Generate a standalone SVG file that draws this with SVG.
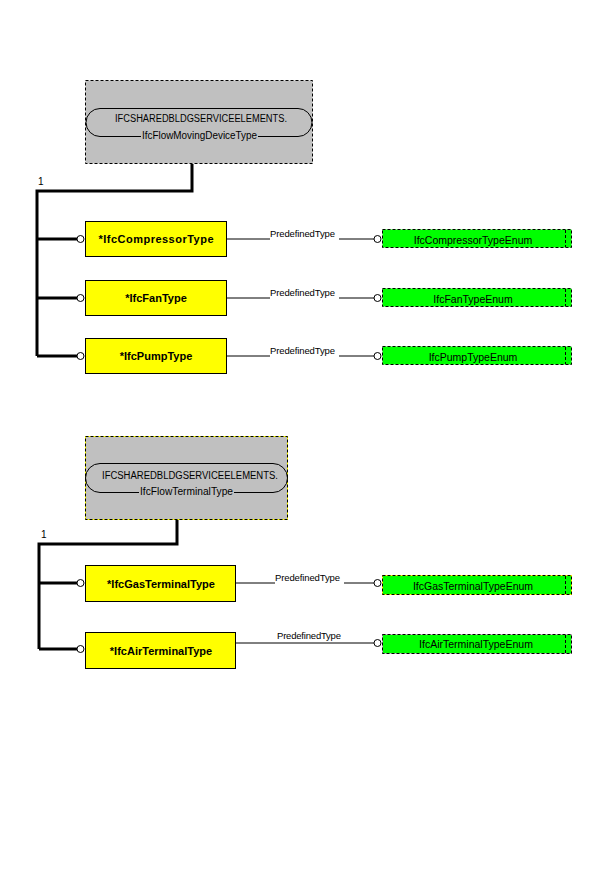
<svg xmlns="http://www.w3.org/2000/svg" width="600" height="888" viewBox="0 0 600 888">
  <style>
    .bg { fill: #ffffff; }
    .super { fill: #c0c0c0; stroke: #000; stroke-width: 1; stroke-dasharray: 3 2; }
    .super-y { fill: #c0c0c0; stroke: #ffff00; stroke-width: 1; }
    .dash { fill: none; stroke: #000; stroke-width: 1; stroke-dasharray: 3 2; }
    .pill { fill: none; stroke: #000; stroke-width: 1; }
    .entity { fill: #ffff00; stroke: #000; stroke-width: 1; }
    .enum { fill: #00ff00; stroke: #000; stroke-width: 1; stroke-dasharray: 3 2; }
    .enum-y { fill: #00ff00; stroke: #ffff00; stroke-width: 1; }
    .enum-g { fill: #00ff00; stroke: #c0c0c0; stroke-width: 1; }
    .thick { fill: none; stroke: #000; stroke-width: 3; }
    .thin { fill: none; stroke: #000; stroke-width: 1; }
    .end { fill: #ffffff; stroke: #000; stroke-width: 1; }
    .t-super { font-family: "Liberation Sans", Arial, sans-serif; font-size: 10px; fill: #000; text-anchor: middle; }
    .t-entity { font-family: "Liberation Sans", Arial, sans-serif; font-size: 11px; font-weight: bold; fill: #000; text-anchor: middle; }
    .t-enum { font-family: "Liberation Sans", Arial, sans-serif; font-size: 10.5px; fill: #000; text-anchor: middle; }
    .t-label { font-family: "Liberation Sans", Arial, sans-serif; font-size: 9.5px; fill: #000; }
  </style>
  <rect class="bg" x="0" y="0" width="600" height="888"/>

  <!-- connectors -->
  <g id="connectors">
    <!-- supertype tree: IfcFlowMovingDeviceType -->
    <polyline class="thick" points="192,164 192,191 37,191 37,356"/>
    <line class="thick" x1="37" y1="239" x2="77" y2="239"/>
    <line class="thick" x1="37" y1="298" x2="77" y2="298"/>
    <line class="thick" x1="37" y1="356" x2="77" y2="356"/>
    <circle class="end" cx="80.5" cy="239" r="3.5"/>
    <circle class="end" cx="80.5" cy="298" r="3.5"/>
    <circle class="end" cx="80.5" cy="356" r="3.5"/>
    <text class="t-label" x="38" y="185" style="font-size:10px">1</text>

    <!-- PredefinedType attributes -->
    <line class="thin" x1="227" y1="239" x2="270" y2="239"/>
    <line class="thin" x1="339" y1="239" x2="374" y2="239"/>
    <circle class="end" cx="377.5" cy="239" r="3.5"/>
    <text class="t-label" x="270" y="237" textLength="65">PredefinedType</text>

    <line class="thin" x1="227" y1="298" x2="270" y2="298"/>
    <line class="thin" x1="339" y1="298" x2="374" y2="298"/>
    <circle class="end" cx="377.5" cy="298" r="3.5"/>
    <text class="t-label" x="270" y="296" textLength="65">PredefinedType</text>

    <line class="thin" x1="227" y1="356" x2="270" y2="356"/>
    <line class="thin" x1="339" y1="356" x2="374" y2="356"/>
    <circle class="end" cx="377.5" cy="356" r="3.5"/>
    <text class="t-label" x="270" y="354" textLength="65">PredefinedType</text>

    <!-- supertype tree: IfcFlowTerminalType -->
    <polyline class="thick" points="177,519 177,544 39,544 39,649"/>
    <line class="thick" x1="39" y1="583" x2="77" y2="583"/>
    <line class="thick" x1="39" y1="649" x2="77" y2="649"/>
    <circle class="end" cx="80.5" cy="583" r="3.5"/>
    <circle class="end" cx="80.5" cy="649" r="3.5"/>
    <text class="t-label" x="41" y="538" style="font-size:10px">1</text>

    <line class="thin" x1="236" y1="583" x2="275" y2="583"/>
    <line class="thin" x1="344" y1="583" x2="374" y2="583"/>
    <circle class="end" cx="377.5" cy="583" r="3.5"/>
    <text class="t-label" x="275" y="581" textLength="65">PredefinedType</text>

    <line class="thin" x1="236" y1="643" x2="374" y2="643"/>
    <circle class="end" cx="377.5" cy="643" r="3.5"/>
    <text class="t-label" x="277" y="639" textLength="64">PredefinedType</text>
  </g>

  <!-- supertype IfcFlowMovingDeviceType -->
  <g id="IfcFlowMovingDeviceType">
    <rect class="super" x="85.5" y="80.5" width="227" height="83"/>
    <path class="pill" d="M141,136.5 H100 A14,14 0 0 1 100,108.5 H298 A14,14 0 0 1 298,136.5 H258"/>
    <text class="t-super" x="201" y="122" textLength="172" lengthAdjust="spacingAndGlyphs">IFCSHAREDBLDGSERVICEELEMENTS.</text>
    <text class="t-super" x="199.5" y="139" textLength="115" lengthAdjust="spacingAndGlyphs">IfcFlowMovingDeviceType</text>
  </g>

  <g id="IfcCompressorType">
    <rect class="entity" x="85.5" y="221.5" width="141" height="35"/>
    <text class="t-entity" x="156" y="243" textLength="115">*IfcCompressorType</text>
  </g>
  <g id="IfcFanType">
    <rect class="entity" x="85.5" y="280.5" width="141" height="35"/>
    <text class="t-entity" x="156" y="302">*IfcFanType</text>
  </g>
  <g id="IfcPumpType">
    <rect class="entity" x="85.5" y="338.5" width="141" height="35"/>
    <text class="t-entity" x="156" y="360">*IfcPumpType</text>
  </g>

  <g id="IfcCompressorTypeEnum">
    <rect class="enum" x="382.5" y="229.5" width="189" height="18"/>
    <line class="dash" x1="565.5" y1="230" x2="565.5" y2="247"/>
    <text class="t-enum" x="473" y="244">IfcCompressorTypeEnum</text>
  </g>
  <g id="IfcFanTypeEnum">
    <rect class="enum" x="382.5" y="288.5" width="189" height="18"/>
    <line class="dash" x1="565.5" y1="289" x2="565.5" y2="306"/>
    <text class="t-enum" x="473" y="303">IfcFanTypeEnum</text>
  </g>
  <g id="IfcPumpTypeEnum">
    <rect class="enum" x="382.5" y="346.5" width="189" height="18"/>
    <line class="dash" x1="565.5" y1="347" x2="565.5" y2="364"/>
    <text class="t-enum" x="473" y="361">IfcPumpTypeEnum</text>
  </g>

  <!-- supertype IfcFlowTerminalType -->
  <g id="IfcFlowTerminalType">
    <rect class="super-y" x="85.5" y="436.5" width="202" height="83"/>
    <rect class="dash" x="85.5" y="436.5" width="202" height="83"/>
    <path class="pill" d="M139,492.5 H100 A14.5,14.5 0 0 1 100,463.5 H273 A14.5,14.5 0 0 1 273,492.5 H234"/>
    <text class="t-super" x="190" y="479" textLength="176" lengthAdjust="spacingAndGlyphs">IFCSHAREDBLDGSERVICEELEMENTS.</text>
    <text class="t-super" x="186.5" y="495" textLength="93" lengthAdjust="spacingAndGlyphs">IfcFlowTerminalType</text>
  </g>

  <g id="IfcGasTerminalType">
    <rect class="entity" x="85.5" y="565.5" width="150" height="36"/>
    <text class="t-entity" x="161" y="588">*IfcGasTerminalType</text>
  </g>
  <g id="IfcAirTerminalType">
    <rect class="entity" x="85.5" y="632.5" width="150" height="36"/>
    <text class="t-entity" x="161" y="655">*IfcAirTerminalType</text>
  </g>

  <g id="IfcGasTerminalTypeEnum">
    <rect class="enum-y" x="382.5" y="575.5" width="189" height="19"/>
    <rect class="dash" x="382.5" y="575.5" width="189" height="19"/>
    <line class="dash" x1="565.5" y1="576" x2="565.5" y2="594"/>
    <text class="t-enum" x="473" y="590">IfcGasTerminalTypeEnum</text>
  </g>
  <g id="IfcAirTerminalTypeEnum">
    <rect class="enum-g" x="382.5" y="634.5" width="189" height="19"/>
    <rect class="dash" x="382.5" y="634.5" width="189" height="19"/>
    <line class="dash" x1="565.5" y1="635" x2="565.5" y2="653"/>
    <text class="t-enum" x="476" y="648">IfcAirTerminalTypeEnum</text>
  </g>
</svg>
